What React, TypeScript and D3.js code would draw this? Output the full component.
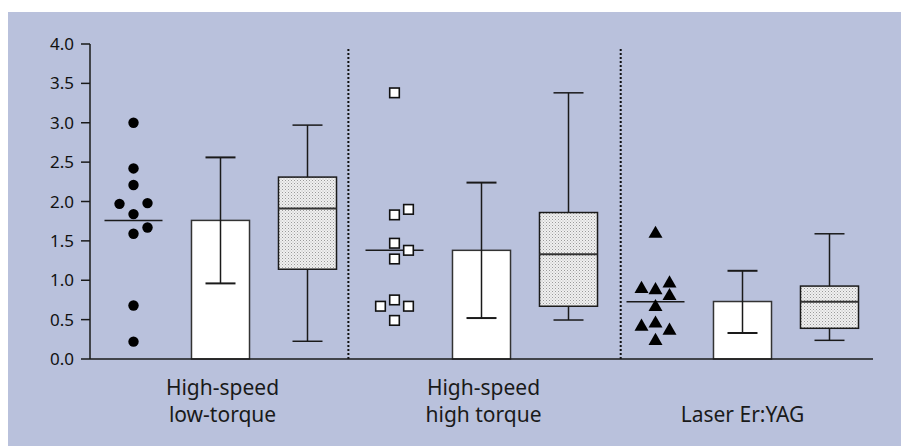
import React from "react";
import * as d3 from "d3";

// ---- Data ----
const groupLines: string[][] = [
  ["High-speed", "low-torque"],
  ["High-speed", "high torque"],
  ["Laser Er:YAG"],
];
const yTicks = [0, 0.5, 1.0, 1.5, 2.0, 2.5, 3.0, 3.5, 4.0];

// scatter values per group, with their column (-1 left, 0 centre, 1 right)
const scatterLowTorque = [3.0, 2.42, 2.21, 1.97, 1.98, 1.84, 1.67, 1.59, 0.68, 0.22];
const columnsLowTorque = [0, 0, 0, -1, 1, 0, 1, 0, 0, 0];
const scatterHighTorque = [3.38, 1.9, 1.83, 1.47, 1.38, 1.27, 0.75, 0.67, 0.67, 0.49];
const columnsHighTorque = [0, 1, 0, 0, 1, 0, 0, -1, 1, 0];
const scatterLaser = [1.59, 0.89, 0.875, 0.96, 0.8, 0.66, 0.41, 0.45, 0.36, 0.23];
const columnsLaser = [0, -1, 0, 1, 1, 0, -1, 0, 1, 0];
const scatterMedians = [1.76, 1.38, 0.727];

// bar (mean) with error range
const barValues = [1.76, 1.38, 0.73];
const barErrLow = [0.96, 0.52, 0.33];
const barErrHigh = [2.56, 2.24, 1.12];

// box plots
const boxMin = [0.225, 0.495, 0.237];
const boxQ1 = [1.14, 0.67, 0.39];
const boxMedian = [1.91, 1.33, 0.727];
const boxQ3 = [2.31, 1.86, 0.926];
const boxMax = [2.97, 3.38, 1.59];

// separators between groups (in slot units)
const separators = [2.97, 6.1];

const scatterSets = [
  { values: scatterLowTorque, cols: columnsLowTorque, shape: "circle" },
  { values: scatterHighTorque, cols: columnsHighTorque, shape: "square" },
  { values: scatterLaser, cols: columnsLaser, shape: "triangle" },
];

export default function App() {
  const W = 901;
  const H = 446;
  const x = d3.scaleLinear().domain([0, 9]).range([90, 873]);
  const y = d3.scaleLinear().domain([0, 4]).range([359, 44]);
  const slot = (g: number, k: number) => x(g * 3 + k + 0.5);
  const step = x(1) - x(0);
  const bw = step * 0.667;
  const capHalf = 15;
  const jit = 14;
  const stroke = "#1a1a1a";
  const font = "'Noto Sans', sans-serif";

  const tri = d3.symbol().type(d3.symbolTriangle).size(85);

  return (
    <svg width={W} height={H} style={{ position: "absolute", left: 0, top: 0 }}>
      <defs>
        <pattern id="dots" width="3" height="3" patternUnits="userSpaceOnUse">
          <rect width="3" height="3" fill="#f0f0f0" />
          <rect x="0" y="0" width="1" height="1" fill="#9a9a9a" />
          <rect x="1.5" y="1.5" width="1" height="1" fill="#b5b5b5" />
        </pattern>
      </defs>
      <rect x={8} y={12} width={W - 8} height={H - 12} fill="#b9c1dc" />

      {/* y axis */}
      <line x1={90} x2={90} y1={y(0)} y2={y(4)} stroke={stroke} strokeWidth={1.5} />
      {yTicks.map((t) => (
        <g key={t}>
          <line x1={81} x2={90} y1={y(t)} y2={y(t)} stroke={stroke} strokeWidth={1.5} />
          <text x={74} y={y(t)} dy="0.36em" textAnchor="end" fontFamily={font} fontSize={17} fill="#111">
            {t.toFixed(1)}
          </text>
        </g>
      ))}

      {/* separators */}
      {separators.map((s, i) => (
        <line key={i} x1={x(s)} x2={x(s)} y1={49} y2={y(0)} stroke="#111" strokeWidth={2} strokeDasharray="2,2" />
      ))}

      {[0, 1, 2].map((g) => {
        const cx0 = slot(g, 0);
        const cx1 = slot(g, 1);
        const cx2 = slot(g, 2);
        const set = scatterSets[g];
        const lines = groupLines[g];
        const baselines = lines.length === 2 ? [395, 422] : [422];
        return (
          <g key={g}>
            {/* scatter median */}
            <line x1={cx0 - 29} x2={cx0 + 29} y1={y(scatterMedians[g])} y2={y(scatterMedians[g])} stroke={stroke} strokeWidth={1.5} />
            {set.values.map((v, i) => {
              const px = cx0 + set.cols[i] * jit;
              const py = y(v);
              if (set.shape === "circle") return <circle key={i} cx={px} cy={py} r={5.2} fill="#000" />;
              if (set.shape === "square")
                return <rect key={i} x={px - 4.8} y={py - 4.8} width={9.6} height={9.6} fill="#fff" stroke="#111" strokeWidth={1.6} />;
              return <path key={i} d={tri() as string} transform={`translate(${px},${py})`} fill="#000" />;
            })}

            {/* bar with error */}
            <rect x={cx1 - bw / 2} y={y(barValues[g])} width={bw} height={y(0) - y(barValues[g])} fill="#fff" stroke="#333" strokeWidth={1.5} />
            <line x1={cx1} x2={cx1} y1={y(barErrLow[g])} y2={y(barErrHigh[g])} stroke={stroke} strokeWidth={1.5} />
            <line x1={cx1 - capHalf} x2={cx1 + capHalf} y1={y(barErrHigh[g])} y2={y(barErrHigh[g])} stroke={stroke} strokeWidth={2} />
            <line x1={cx1 - capHalf} x2={cx1 + capHalf} y1={y(barErrLow[g])} y2={y(barErrLow[g])} stroke={stroke} strokeWidth={2} />

            {/* box plot */}
            <line x1={cx2} x2={cx2} y1={y(boxMin[g])} y2={y(boxMax[g])} stroke={stroke} strokeWidth={1.5} />
            <line x1={cx2 - capHalf} x2={cx2 + capHalf} y1={y(boxMax[g])} y2={y(boxMax[g])} stroke={stroke} strokeWidth={1.5} />
            <line x1={cx2 - capHalf} x2={cx2 + capHalf} y1={y(boxMin[g])} y2={y(boxMin[g])} stroke={stroke} strokeWidth={1.5} />
            <rect x={cx2 - bw / 2} y={y(boxQ3[g])} width={bw} height={y(boxQ1[g]) - y(boxQ3[g])} fill="url(#dots)" stroke={stroke} strokeWidth={1.5} />
            <line x1={cx2 - bw / 2} x2={cx2 + bw / 2} y1={y(boxMedian[g])} y2={y(boxMedian[g])} stroke="#333" strokeWidth={2} />

            {/* category label */}
            {lines.map((ln, li) => (
              <text key={li} x={cx1 + (lines.length === 2 ? 2 : 0)} y={baselines[li]} textAnchor="middle" fontFamily={font} fontSize={21} fill="#1a1a1a">
                {ln}
              </text>
            ))}
          </g>
        );
      })}

      {/* x axis baseline */}
      <line x1={90} x2={873} y1={y(0)} y2={y(0)} stroke={stroke} strokeWidth={1.5} />
    </svg>
  );
}
